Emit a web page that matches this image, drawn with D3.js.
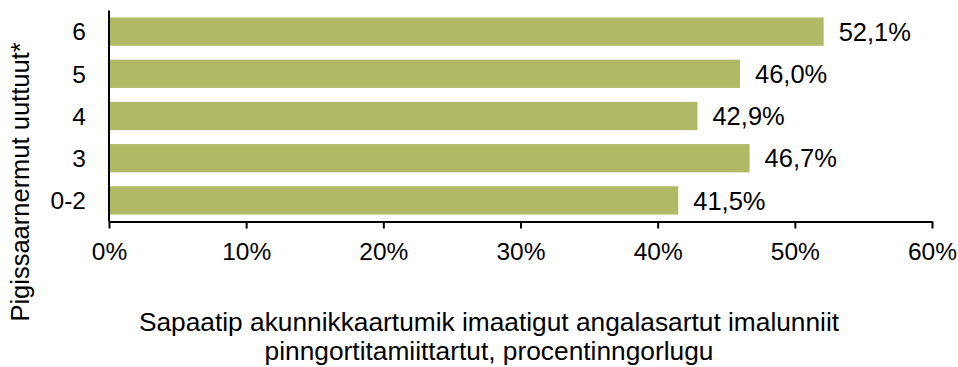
<!DOCTYPE html>
<html>
<head>
<meta charset="utf-8">
<script src="https://cdn.jsdelivr.net/npm/d3@7"></script>
<style>
  html, body { margin: 0; padding: 0; background: #fff; }
  svg text { font-family: "Liberation Sans", Arial, sans-serif; fill: #000; }
</style>
</head>
<body>
<svg id="chart" width="958" height="367"></svg>
<script>
// Share of travellers per category (percent)
const categories = ["6", "5", "4", "3", "0-2"];
const values = [52.1, 46.0, 42.9, 46.7, 41.5];
const valueLabels = ["52,1%", "46,0%", "42,9%", "46,7%", "41,5%"];
const xTicks = [0, 10, 20, 30, 40, 50, 60];
const yTitle = "Pigissaarnermut uuttuut*";
const xTitleLines = [
  "Sapaatip akunnikkaartumik imaatigut angalasartut imalunniit",
  "pinngortitamiittartut, procentinngorlugu"
];

const svg = d3.select("#chart");
const margin = { left: 109, right: 26, top: 10.5, bottom: 145.5 };
const W = 958, H = 367;
const FONT = "Liberation Sans, Arial, sans-serif";

const x = d3.scaleLinear().domain([0, 60]).range([margin.left, W - margin.right]);
const y = d3.scaleBand().domain(categories)
  .range([margin.top, H - margin.bottom]).paddingInner(0.33).paddingOuter(0.165);

// bars
svg.append("g").selectAll("rect").data(categories).join("rect")
  .attr("x", x(0) + 1)
  .attr("y", d => y(d))
  .attr("width", (d, i) => x(values[i]) - x(0) - 1)
  .attr("height", y.bandwidth())
  .attr("fill", "#afb966");

// value labels
svg.append("g").selectAll("text").data(categories).join("text")
  .attr("x", (d, i) => x(values[i]) + 15)
  .attr("y", d => y(d) + y.bandwidth() / 2)
  .attr("dy", "0.36em")
  .attr("font-size", 25.5)
  .text((d, i) => valueLabels[i]);

// x axis
const xAxis = d3.axisBottom(x).tickValues(xTicks).tickFormat(d => d + "%")
  .tickSize(7).tickSizeOuter(0).tickPadding(14);
const gx = svg.append("g").attr("transform", `translate(0,${H - margin.bottom})`).call(xAxis);
gx.select(".domain").attr("stroke", "#000").attr("stroke-width", 2);
gx.selectAll(".tick line").attr("stroke", "#000").attr("stroke-width", 2);
gx.selectAll(".tick text").attr("font-size", 24.5).attr("font-family", FONT);

// y axis
const yAxis = d3.axisLeft(y).tickSize(0).tickPadding(23);
const gy = svg.append("g").attr("transform", `translate(${margin.left},0)`).call(yAxis);
gy.select(".domain").attr("stroke", "#000").attr("stroke-width", 2)
  .attr("d", `M0,${margin.top}V${H - margin.bottom}`);
gy.selectAll(".tick text").attr("font-size", 24.5).attr("font-family", FONT)
  .attr("dy", "0.36em");

// axis titles
svg.append("text")
  .attr("transform", `translate(29,182) rotate(-90)`)
  .attr("text-anchor", "middle")
  .attr("font-size", 25.5)
  .text(yTitle);

svg.append("g").selectAll("text").data(xTitleLines).join("text")
  .attr("x", 489)
  .attr("y", (d, i) => 331 + i * 28.5)
  .attr("text-anchor", "middle")
  .attr("font-size", 26.3)
  .text(d => d);
</script>
</body>
</html>
